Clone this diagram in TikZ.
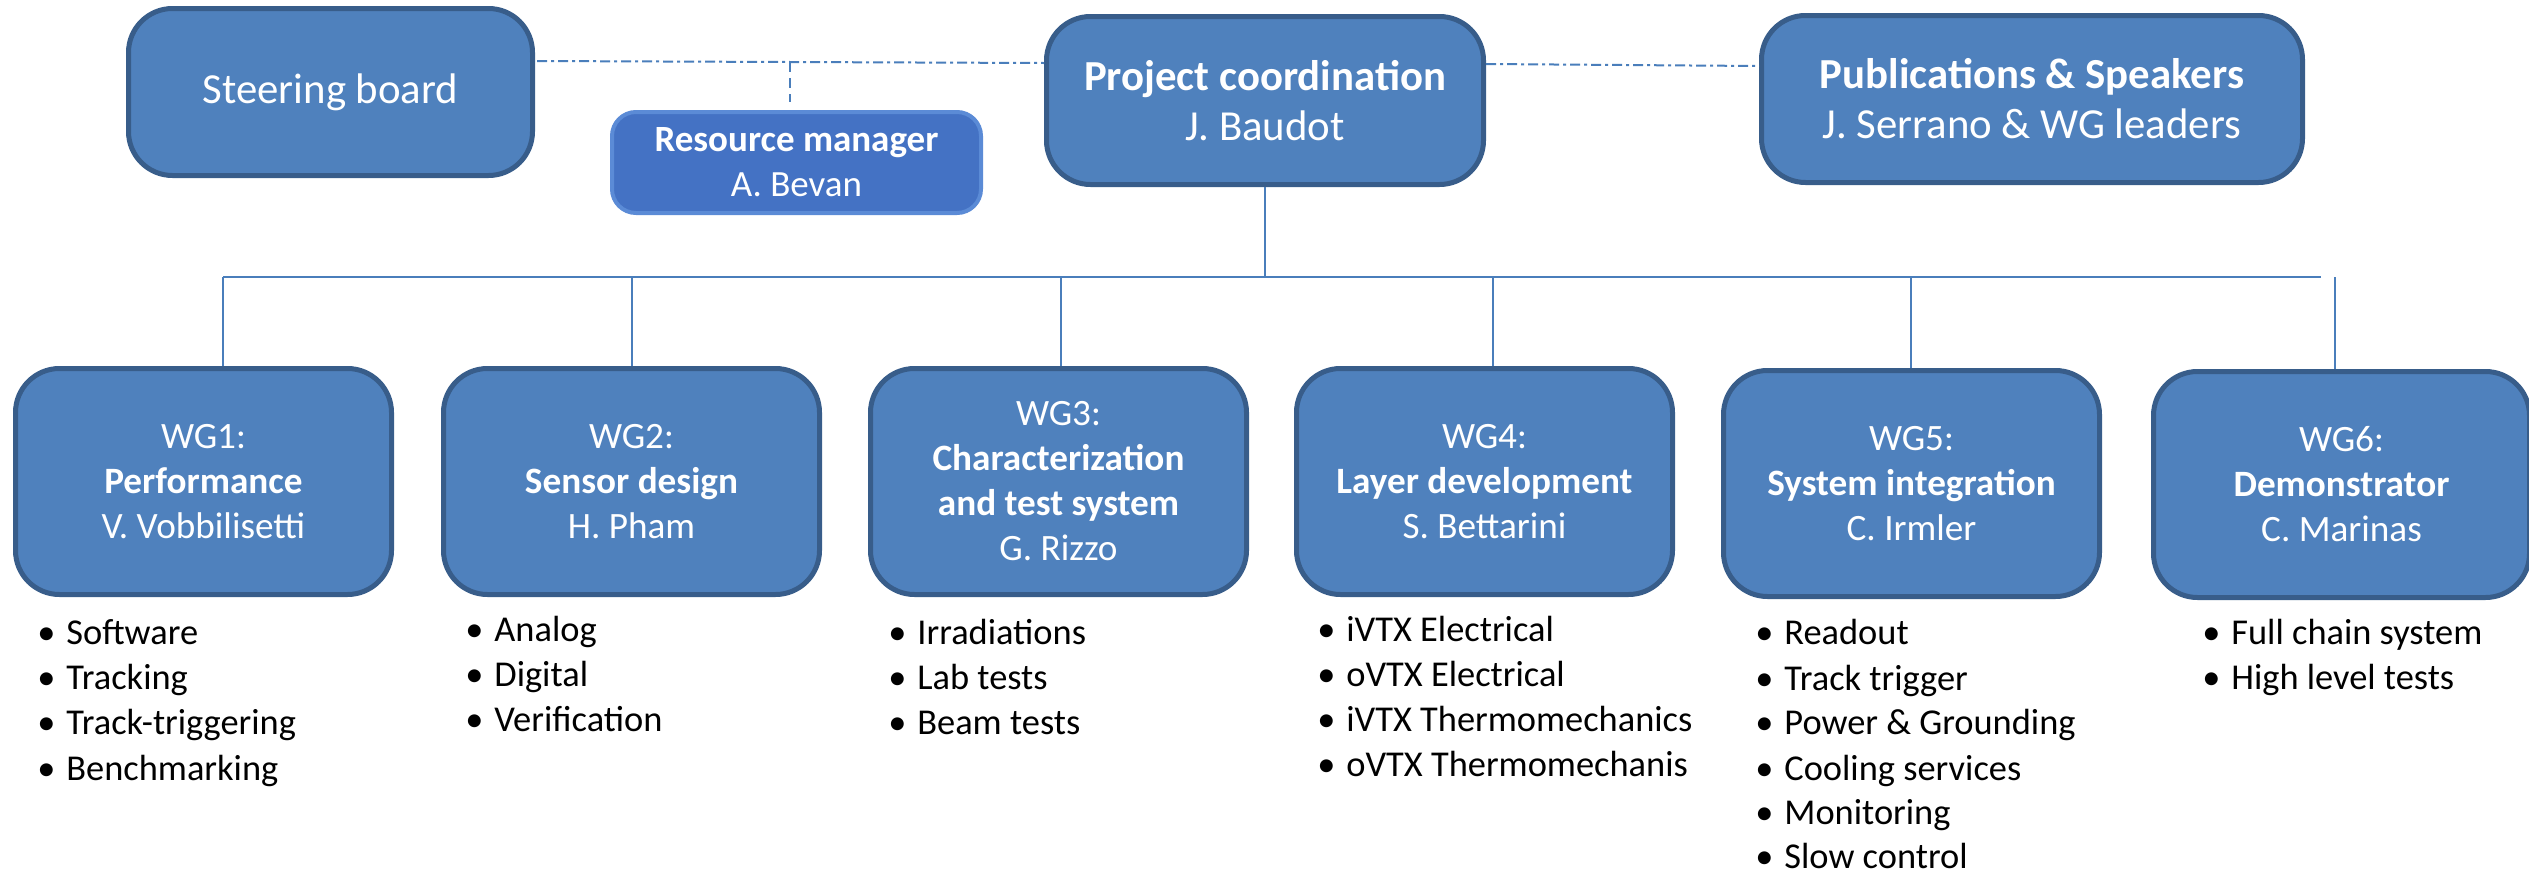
\documentclass[tikz,border=0pt]{standalone}
\usepackage{fontspec}
\setmainfont{Carlito}
\definecolor{boxfill}{HTML}{4F81BD}
\definecolor{boxdraw}{HTML}{385D8A}
\definecolor{rmfill}{HTML}{4472C4}
\definecolor{rmdraw}{HTML}{5B8BD6}
\definecolor{conn}{HTML}{4A7EBB}
\newcommand\bulitem[1]{\makebox[14.5pt][l]{\textbullet}#1}
\tikzset{
  orgbox/.style={rectangle, rounded corners=22pt, fill=boxfill, draw=boxdraw, line width=2.5pt,
    text=white, align=center, inner sep=0pt, font=\fontsize{18.6}{22.5}\selectfont},
  topbox/.style={orgbox, font=\fontsize{21.4}{25}\selectfont},
  wgbox/.style={orgbox, minimum width=188pt, minimum height=113pt},
  rmbox/.style={rectangle, rounded corners=12pt, fill=rmfill, draw=rmdraw, line width=2pt,
    text=white, align=center, inner sep=0pt, font=\fontsize{18.5}{22.5}\selectfont},
  listitem/.style={anchor=west, inner sep=0pt, text height=11.6pt, text depth=0pt,
    font=\fontsize{18.2}{20}\selectfont},
  tree/.style={draw=conn, line width=1pt},
  dashdot/.style={draw=conn, line width=1pt, dash pattern=on 5pt off 2pt on 1.5pt off 2pt},
  dashv/.style={draw=conn, line width=1pt, dash pattern=on 5pt off 3pt},
}
\begin{document}
\begin{tikzpicture}[x=0.5pt,y=-0.5pt]
\useasboundingbox (0,0) rectangle (2529,873);

% top row
\node[topbox, minimum width=202pt, minimum height=83.5pt] (sb) at (330.5,92) {Steering board};
\node[topbox, minimum width=218.5pt, minimum height=84pt] (pc) at (1265,100.5) {\textbf{Project coordination}\\J. Baudot};
\node[topbox, minimum width=270.5pt, minimum height=83.5pt] (pub) at (2032,99) {\textbf{Publications \& Speakers}\\J. Serrano \& WG leaders};
\node[rmbox, minimum width=184.5pt, minimum height=50.5pt] (rm) at (796.5,162.5) {\textbf{Resource manager}\\A. Bevan};

% WG boxes
\node[wgbox] (wg1) at (203.5,481.5) {WG1:\\\textbf{Performance}\\V. Vobbilisetti};
\node[wgbox] (wg2) at (631.5,481.5) {WG2:\\\textbf{Sensor design}\\H. Pham};
\node[wgbox] (wg3) at (1058.5,481.5) {WG3:\\\textbf{Characterization}\\\textbf{and test system}\\G. Rizzo};
\node[wgbox] (wg4) at (1484.5,481.5) {WG4:\\\textbf{Layer development}\\S. Bettarini};
\node[wgbox] (wg5) at (1911.5,483.5) {WG5:\\\textbf{System integration}\\C. Irmler};
\node[wgbox] (wg6) at (2341.5,484.5) {WG6:\\\textbf{Demonstrator}\\C. Marinas};

% coordinates for the connectors
\coordinate (dl1) at (537,61);
\coordinate (dl2) at (1044,63);
\coordinate (dr1) at (1486,64);
\coordinate (dr2) at (1759,66);
\coordinate (dv) at (790,62);
\coordinate (hub) at (1265,277);
\coordinate (h1) at (223,277);
\coordinate (h2) at (632,277);
\coordinate (h3) at (1061,277);
\coordinate (h4) at (1493,277);
\coordinate (h5) at (1911,277);
\coordinate (hend) at (2321,277);
\coordinate (h6) at (2335,277);

% dash-dot links
\draw[dashdot] (dl1) -- (dl2);
\draw[dashdot] (dr1) -- (dr2);
\draw[dashv, shorten >=4pt] (dv) -- (dv |- rm.north);

% tree
\draw[tree] (pc.south) -- (hub);
\draw[tree] (h1) -- (hend);
\draw[tree] (h1) -- (h1 |- wg1.north);
\draw[tree] (h2) -- (h2 |- wg2.north);
\draw[tree] (h3) -- (h3 |- wg3.north);
\draw[tree] (h4) -- (h4 |- wg4.north);
\draw[tree] (h5) -- (h5 |- wg5.north);
\draw[tree] (h6) -- (h6 |- wg6.north);

% lists
\node[listitem] (l1a) at (37,633) {\bulitem{Software}};
\node[listitem] (l1b) at (37,678) {\bulitem{Tracking}};
\node[listitem] (l1c) at (37,723) {\bulitem{Track-triggering}};
\node[listitem] (l1d) at (37,769) {\bulitem{Benchmarking}};

\node[listitem] (l2a) at (465,630) {\bulitem{Analog}};
\node[listitem] (l2b) at (465,675) {\bulitem{Digital}};
\node[listitem] (l2c) at (465,720) {\bulitem{Verification}};

\node[listitem] (l3a) at (888,633) {\bulitem{Irradiations}};
\node[listitem] (l3b) at (888,678) {\bulitem{Lab tests}};
\node[listitem] (l3c) at (888,723) {\bulitem{Beam tests}};

\node[listitem] (l4a) at (1317,630) {\bulitem{iVTX Electrical}};
\node[listitem] (l4b) at (1317,675) {\bulitem{oVTX Electrical}};
\node[listitem] (l4c) at (1317,720) {\bulitem{iVTX Thermomechanics}};
\node[listitem] (l4d) at (1317,765) {\bulitem{oVTX Thermomechanis}};

\node[listitem] (l5a) at (1755,633) {\bulitem{Readout}};
\node[listitem] (l5b) at (1755,679) {\bulitem{Track trigger}};
\node[listitem] (l5c) at (1755,723) {\bulitem{Power \& Grounding}};
\node[listitem] (l5d) at (1755,769) {\bulitem{Cooling services}};
\node[listitem] (l5e) at (1755,813) {\bulitem{Monitoring}};
\node[listitem] (l5f) at (1755,857) {\bulitem{Slow control}};

\node[listitem] (l6a) at (2202,633) {\bulitem{Full chain system}};
\node[listitem] (l6b) at (2202,678) {\bulitem{High level tests}};
\end{tikzpicture}
\end{document}
